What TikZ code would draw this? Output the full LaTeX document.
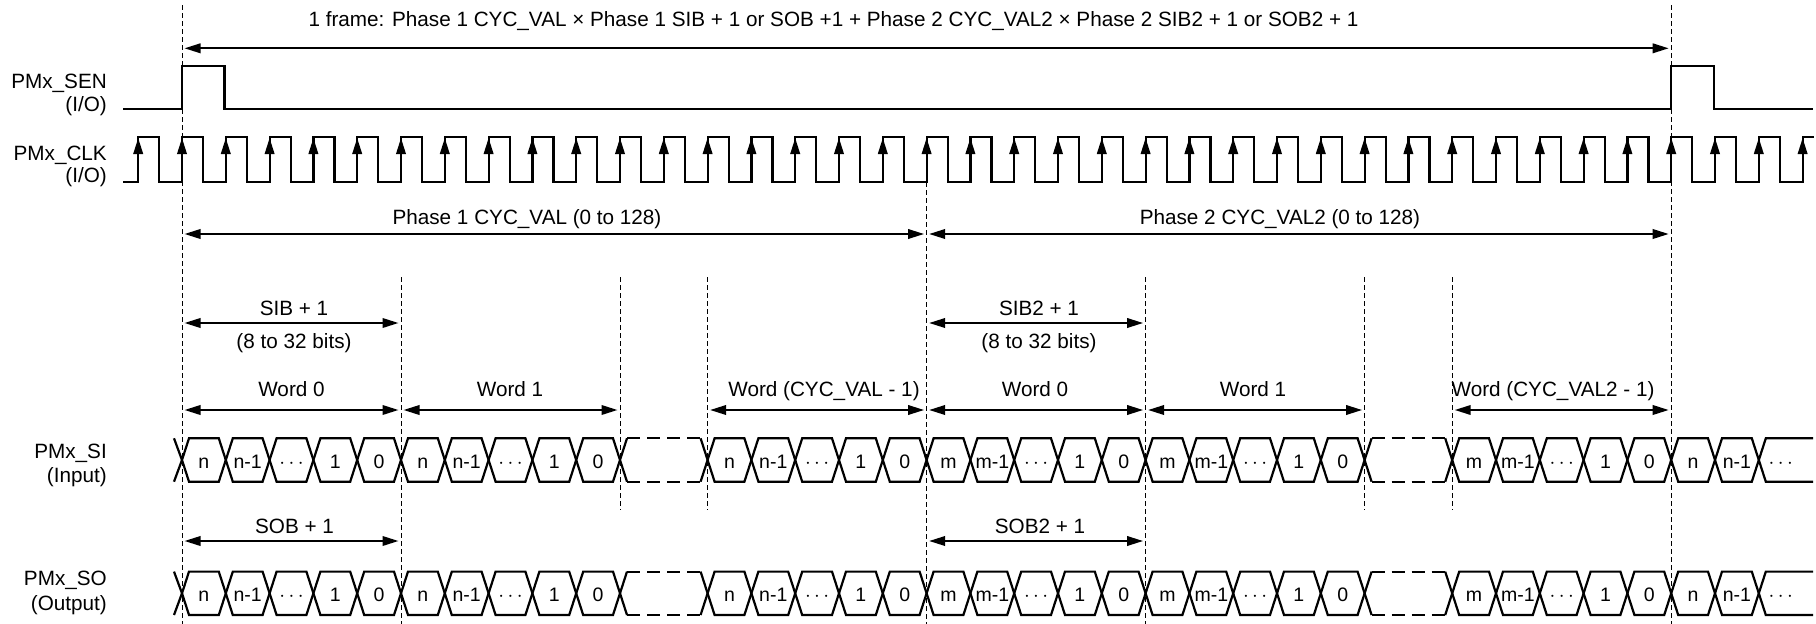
\documentclass[tikz,border=0pt]{standalone}
\usepackage{fontspec}
\setmainfont{Liberation Sans}
\usetikzlibrary{arrows.meta}
\newcommand\bitw{43.8}
\newcommand\busword[4]{%
  \foreach \j/\lab in {0/#3,1/#3-1,2/{$\cdots$},3/1,4/0}{%
    \pgfmathsetmacro\xa{182+(#1+\j)*\bitw}%
    \pgfmathsetmacro\xb{\xa+\bitw}%
    \pgfmathtruncatemacro\kk{#1+\j}%
    \draw[sig] (\xa,#2) -- (\xa+7,#2-21.7) -- (\xb-7,#2-21.7) -- (\xb,#2) -- (\xb-7,#2+21.7) -- (\xa+7,#2+21.7) -- cycle;
    \node[celltxt] (#4\kk) at ({(\xa+\xb)/2},#2+8.5) {\lab};
  }}
\newcommand\busgap[2]{%
  \pgfmathsetmacro\xa{182+#1*\bitw}%
  \pgfmathsetmacro\xb{\xa+2*\bitw}%
  \draw[sig] (\xa+7,#2-21.7) -- (\xa,#2) -- (\xa+7,#2+21.7);
  \draw[sig] (\xb-7,#2-21.7) -- (\xb,#2) -- (\xb-7,#2+21.7);
  \draw[gapline] (\xa+7,#2-21.7) -- (\xb-7,#2-21.7);
  \draw[gapline] (\xa+7,#2+21.7) -- (\xb-7,#2+21.7);
}
\newcommand\buscell[4]{% k, mid, label, name
  \pgfmathsetmacro\xa{182+#1*\bitw}%
  \pgfmathsetmacro\xb{\xa+\bitw}%
  \draw[sig] (\xa,#2) -- (\xa+7,#2-21.7) -- (\xb-7,#2-21.7) -- (\xb,#2) -- (\xb-7,#2+21.7) -- (\xa+7,#2+21.7) -- cycle;
  \node[celltxt] (#4) at ({(\xa+\xb)/2},#2+8.5) {#3};
}
\newcommand\busopen[3]{% k, mid, name
  \pgfmathsetmacro\xa{182+#1*\bitw}%
  \draw[sig] (1813,#2-21.7) -- (\xa+7,#2-21.7) -- (\xa,#2) -- (\xa+7,#2+21.7) -- (1813,#2+21.7);
  \node[celltxt] (#3) at (\xa+\bitw/2,#2+8.5) {$\cdots$};
}
\newcommand\busrow[2]{% mid, name
  \draw[sig] (174,#1-21.7) -- (182,#1) -- (174,#1+21.7);
  \busword{0}{#1}{n}{#2}
  \busword{5}{#1}{n}{#2}
  \busgap{10}{#1}
  \busword{12}{#1}{n}{#2}
  \busword{17}{#1}{m}{#2}
  \busword{22}{#1}{m}{#2}
  \busgap{27}{#1}
  \busword{29}{#1}{m}{#2}
  \buscell{34}{#1}{n}{#2n34}
  \buscell{35}{#1}{n-1}{#2n35}
  \busopen{36}{#1}{#2n36}
}
\newcommand\dimarrow[4]{% name, k1, k2, y
  \coordinate (#1L) at ({182+#2*\bitw},#4);
  \coordinate (#1R) at ({182+#3*\bitw},#4);
  \draw[dim] (#1L) -- (#1R);
}
\begin{document}
\begin{tikzpicture}[x=1pt,y=-1pt,
  sig/.style={line width=2.2pt,line join=miter},
  guide/.style={line width=1pt,dash pattern=on 5pt off 3pt},
  dimtip/.tip={Triangle[length=16pt,width=9.5pt]},
  dim/.style={line width=2pt,{dimtip}-{dimtip},shorten <=2.5pt,shorten >=2.5pt},
  clkarrow/.style={line width=2pt,-{dimtip}},
  txt/.style={font=\fontsize{20.7}{24}\selectfont,inner sep=0pt,anchor=base},
  sigtxt/.style={font=\fontsize{20.7}{24}\selectfont,inner sep=0pt,anchor=base east},
  celltxt/.style={font=\fontsize{19.5}{22}\selectfont,inner sep=0pt,anchor=base},
  gapline/.style={line width=2.2pt,dash pattern=on 13pt off 7pt}
]
\useasboundingbox (0,0) rectangle (1816,624);

% signal names
\node[sigtxt] (senA) at (107,88) {PMx\_SEN};
\node[sigtxt] (senB) at (107,111) {(I/O)};
\node[sigtxt] (clkA) at (107,160) {PMx\_CLK};
\node[sigtxt] (clkB) at (107,182.5) {(I/O)};
\node[sigtxt] (siA) at (107,458) {PMx\_SI};
\node[sigtxt] (siB) at (107,482) {(Input)};
\node[sigtxt] (soA) at (107,585.5) {PMx\_SO};
\node[sigtxt] (soB) at (107,610) {(Output)};

% guide lines
\foreach \k/\ya/\yb in {0/5/624, 34/5/624, 17/182/624, 5/277/624, 22/277/624, 10/277/510, 12/277/510, 27/277/510, 29/277/510}{
  \coordinate (g\k a) at ({182+\k*\bitw},\ya);
  \coordinate (g\k b) at ({182+\k*\bitw},\yb);
  \draw[guide] (g\k a) -- (g\k b);
}

% PMx_SEN
\draw[sig] (123,109.3) -- (182,109.3) -- (182,66) -- (224.5,66) -- (224.5,109.3)
  -- ({182+34*\bitw},109.3) -- ++(0,-43.3) -- ++(42.5,0) -- ++(0,43.3) -- (1813,109.3);

% PMx_CLK
\draw[sig] (123,181.7)
  foreach \k in {-1,...,36}{ -- ({182+\k*\bitw},181.7) -- ({182+\k*\bitw},136.7) -- ({182+\k*\bitw+21},136.7) -- ({182+\k*\bitw+21},181.7) }
  -- ({182+37*\bitw},181.7) -- ({182+37*\bitw},136.7) -- (1814,136.7);
\foreach \k in {-1,...,37}{
  \draw[clkarrow] ({182+\k*\bitw},181.7) -- ({182+\k*\bitw},138);
}

% dimension arrows
\dimarrow{frame}{0}{34}{48.3}
\node[txt] (frameT) at (833.5,26) {1 frame: Phase 1 CYC\_VAL × Phase 1 SIB + 1 or SOB +1 + Phase 2 CYC\_VAL2 × Phase 2 SIB2 + 1 or SOB2 + 1};
\dimarrow{ph1}{0}{17}{234}
\dimarrow{ph2}{17}{34}{234}
\node[txt] (ph1T) at (527,224) {Phase 1 CYC\_VAL (0 to 128)};
\node[txt] (ph2T) at (1280,224) {Phase 2 CYC\_VAL2 (0 to 128)};
\dimarrow{sib}{0}{5}{323}
\dimarrow{sibb}{17}{22}{323}
\node[txt] (sibT) at (294,315) {SIB + 1};
\node[txt] (sibU) at (294,348) {(8 to 32 bits)};
\node[txt] (sibbT) at (1039,315) {SIB2 + 1};
\node[txt] (sibbU) at (1039,348) {(8 to 32 bits)};
\dimarrow{wa}{0}{5}{410}
\dimarrow{wb}{5}{10}{410}
\dimarrow{wc}{12}{17}{410}
\dimarrow{wd}{17}{22}{410}
\dimarrow{we}{22}{27}{410}
\dimarrow{wf}{29}{34}{410}
\node[txt] (waT) at (291.5,396) {Word 0};
\node[txt] (wbT) at (510,396) {Word 1};
\node[txt] (wcT) at (824,396) {Word (CYC\_VAL - 1)};
\node[txt] (wdT) at (1035,396) {Word 0};
\node[txt] (weT) at (1253,396) {Word 1};
\node[txt] (wfT) at (1553,396) {Word (CYC\_VAL2 - 1)};
\dimarrow{sob}{0}{5}{541}
\dimarrow{sobb}{17}{22}{541}
\node[txt] (sobT) at (294.5,533) {SOB + 1};
\node[txt] (sobbT) at (1040,533) {SOB2 + 1};

% buses
\busrow{460}{si}
\busrow{593.3}{so}
\end{tikzpicture}
\end{document}
